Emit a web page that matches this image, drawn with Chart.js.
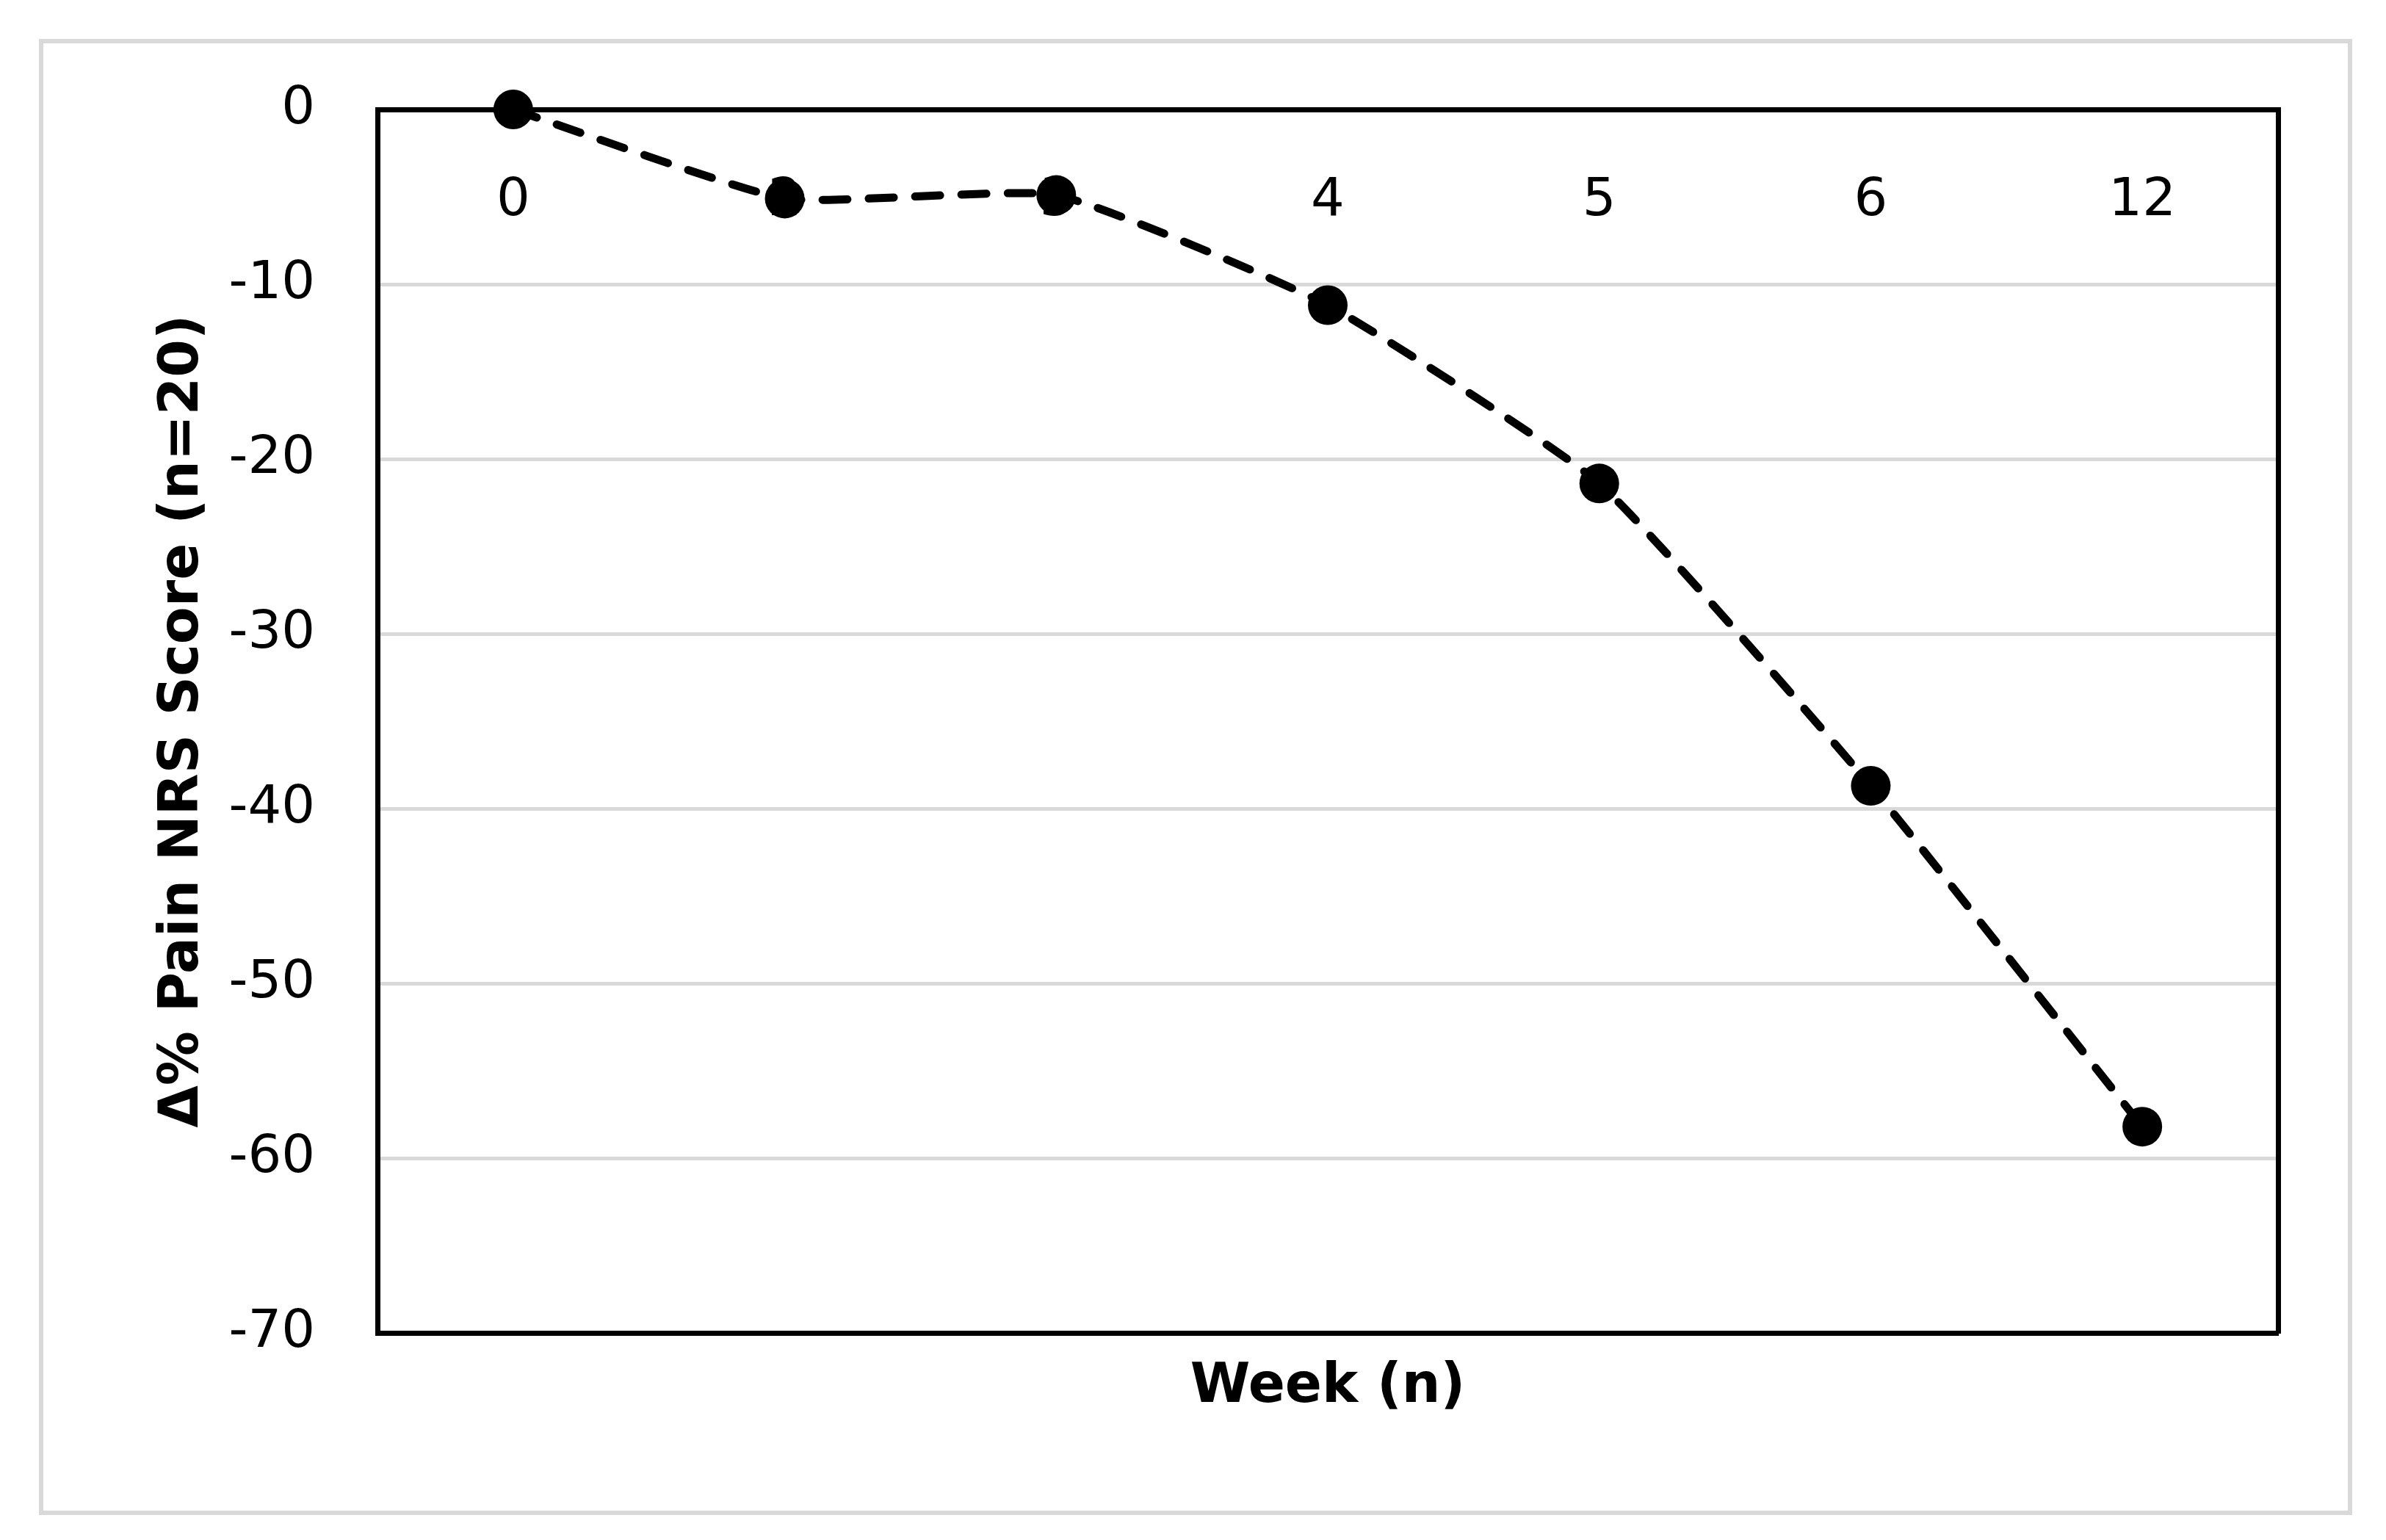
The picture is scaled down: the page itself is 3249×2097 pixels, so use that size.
<!DOCTYPE html>
<html>
<head>
<meta charset="utf-8">
<script src="https://cdn.jsdelivr.net/npm/chart.js@4.4.1/dist/chart.umd.min.js"></script>
<style>
    html, body { margin: 0; padding: 0; background: #ffffff; }
    #wrap { position: relative; width: 3249px; height: 2097px; }
    #frame {
        position: absolute;
        left: 53px; top: 53px;
        width: 3138px; height: 1998px;
        border: 6px solid #d9d9d9;
    }
    #painChart { position: absolute; left: 0; top: 0; }
</style>
</head>
<body>
<div id="wrap">
    <div id="frame"></div>
    <canvas id="painChart" width="3249" height="2097"></canvas>
</div>
<script>
// data
const weeks = ['0', '2', '3', '4', '5', '6', '12'];
const painChange = [0, -5.1, -4.9, -11.2, -21.4, -38.7, -58.2];
const yTicks = [0, -10, -20, -30, -40, -50, -60, -70];

const FONT = 'DejaVu Sans';
const BOX = { display: true, color: '#000000', width: 7 };

function fixWidth(w) {
    return function(scale) { scale.width = w; };
}
function fixHeight(h) {
    return function(scale) { scale.height = h; };
}

const ctx = document.getElementById('painChart').getContext('2d');

new Chart(ctx, {
    type: 'line',
    data: {
        labels: weeks,
        datasets: [{
            label: 'Δ% Pain NRS Score',
            data: painChange,
            borderColor: '#000000',
            backgroundColor: '#000000',
            borderWidth: 11,
            borderDash: [34, 29],
            borderCapStyle: 'round',
            tension: 0.15,
            pointRadius: 27,
            pointHoverRadius: 27,
            pointBackgroundColor: '#000000',
            pointBorderWidth: 0,
            fill: false,
            clip: false
        }]
    },
    options: {
        responsive: false,
        animation: false,
        events: [],
        layout: {
            padding: { top: 149, bottom: 122, left: 0, right: 147 }
        },
        plugins: {
            legend: { display: false },
            tooltip: { enabled: false }
        },
        scales: {
            // category labels sit just under the top border (axis crosses at 0)
            // mirror keeps them from being clipped to the zero-height axis box
            x: {
                type: 'category',
                position: 'top',
                offset: true,
                afterFit: fixHeight(0),
                grid: { display: false, drawTicks: false },
                border: BOX,
                ticks: {
                    autoSkip: false,
                    maxRotation: 0,
                    mirror: true,
                    padding: 82,
                    color: '#000000',
                    font: { family: FONT, size: 72 }
                }
            },
            x2: {
                type: 'category',
                position: 'bottom',
                offset: true,
                afterFit: fixHeight(160),
                grid: { display: false, drawTicks: false },
                border: BOX,
                ticks: { display: false },
                title: {
                    display: true,
                    text: 'Week (n)',
                    color: '#000000',
                    padding: { top: 0, bottom: 41 },
                    font: { family: FONT, size: 74, weight: 'bold' }
                }
            },
            y: {
                type: 'linear',
                position: 'left',
                min: -70,
                max: 0,
                afterFit: fixWidth(514),
                afterBuildTicks: function(scale) {
                    scale.ticks = yTicks.map(v => ({ value: v }));
                },
                grid: {
                    color: '#d9d9d9',
                    lineWidth: 5,
                    drawTicks: false
                },
                border: BOX,
                ticks: {
                    padding: 85,
                    color: '#000000',
                    font: { family: FONT, size: 72 }
                },
                title: {
                    display: true,
                    text: 'Δ% Pain NRS Score (n=20)',
                    color: '#000000',
                    padding: { top: 205, bottom: 0 },
                    font: { family: FONT, size: 74, weight: 'bold' }
                }
            },
            y2: {
                type: 'linear',
                position: 'right',
                min: -70,
                max: 0,
                afterFit: fixWidth(0),
                grid: { display: false, drawTicks: false },
                border: BOX,
                ticks: { display: false }
            }
        }
    }
});
</script>
</body>
</html>
